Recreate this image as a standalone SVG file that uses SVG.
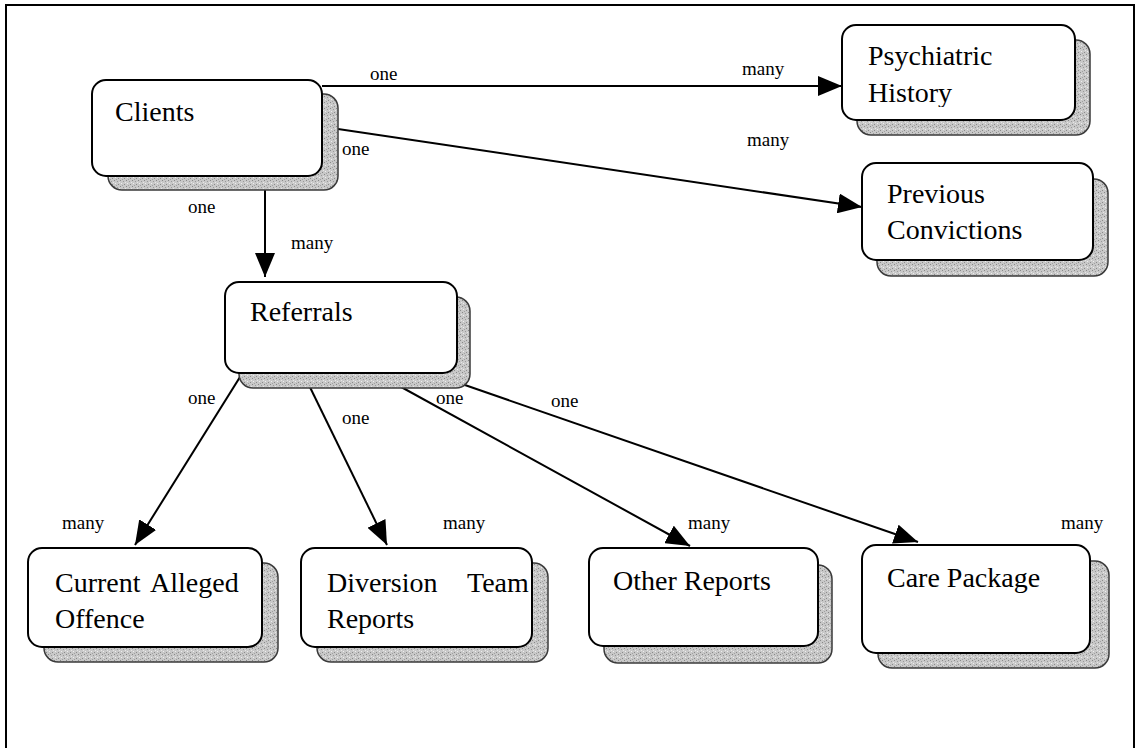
<svg xmlns="http://www.w3.org/2000/svg" width="1137" height="748" viewBox="0 0 1137 748">
<defs>
<style>
.frame{fill:none;stroke:#000;stroke-width:2}
.front{fill:#fff;stroke:#000;stroke-width:2}
.shadow{fill:url(#dither);stroke:#3a3a3a;stroke-width:1.5}
.t{font-family:"Liberation Serif","Times New Roman",serif;font-size:28px;fill:#000}
.lbl{font-family:"Liberation Serif","Times New Roman",serif;font-size:19px;fill:#000}
.con{stroke:#000;stroke-width:2;fill:none;marker-end:url(#arr)}
</style>
<pattern id="dither" width="6" height="6" patternUnits="userSpaceOnUse">
<rect width="6" height="6" fill="#c8c8c8"/>
<rect x="0" y="0" width="1" height="1" fill="#888"/>
<rect x="3" y="1" width="1" height="1" fill="#999"/>
<rect x="1" y="3" width="1" height="1" fill="#eee"/>
<rect x="4" y="4" width="1" height="1" fill="#8a8a8a"/>
<rect x="5" y="2" width="1" height="1" fill="#e6e6e6"/>
<rect x="2" y="5" width="1" height="1" fill="#a0a0a0"/>
</pattern>
<marker id="arr" viewBox="0 0 24 20" refX="24" refY="10" markerWidth="24" markerHeight="20" markerUnits="userSpaceOnUse" orient="auto">
<path d="M0,0 L24,10 L0,20 Z" fill="#000"/>
</marker>
<clipPath id="clipPsy"><rect x="842" y="25" width="233" height="82"/></clipPath>
</defs>
<rect width="1137" height="748" fill="#fff"/>
<path class="frame" d="M6,760 V5 H1134 V760"/>

<g id="connectors">
<line class="con" x1="322" y1="86" x2="842" y2="86"/>
<line class="con" x1="338" y1="129" x2="862" y2="207"/>
<line class="con" x1="265" y1="190" x2="265" y2="277"/>
<line class="con" x1="240" y1="377" x2="135" y2="545"/>
<line class="con" x1="305" y1="377" x2="387" y2="545"/>
<line class="con" x1="383" y1="377" x2="690" y2="546"/>
<line class="con" x1="462" y1="384" x2="918" y2="542"/>
<text class="lbl" x="370" y="80">one</text>
<text class="lbl" x="742" y="75">many</text>
<text class="lbl" x="342" y="155">one</text>
<text class="lbl" x="747" y="146">many</text>
<text class="lbl" x="188" y="213">one</text>
<text class="lbl" x="291" y="249">many</text>
<text class="lbl" x="188" y="404">one</text>
<text class="lbl" x="342" y="424">one</text>
<text class="lbl" x="436" y="404">one</text>
<text class="lbl" x="551" y="407">one</text>
<text class="lbl" x="62" y="529">many</text>
<text class="lbl" x="443" y="529">many</text>
<text class="lbl" x="688" y="529">many</text>
<text class="lbl" x="1061" y="529">many</text>
</g>

<g id="clients">
<rect class="shadow" x="108" y="94" width="230" height="96" rx="14"/>
<rect class="front" x="92" y="80" width="230" height="96" rx="14"/>
<text class="t" x="115" y="121">Clients</text>
</g>

<g id="psychiatric-history">
<rect class="shadow" x="857" y="40" width="233" height="95" rx="14"/>
<rect class="front" x="842" y="25" width="233" height="95" rx="14"/>
<text class="t" x="868" y="65">Psychiatric</text>
<text class="t" x="868" y="102" clip-path="url(#clipPsy)">History</text>
</g>

<g id="previous-convictions">
<rect class="shadow" x="877" y="179" width="231" height="97" rx="14"/>
<rect class="front" x="862" y="163" width="231" height="97" rx="14"/>
<text class="t" x="887" y="203">Previous</text>
<text class="t" x="887" y="239">Convictions</text>
</g>

<g id="referrals">
<rect class="shadow" x="239" y="297" width="231" height="91" rx="14"/>
<rect class="front" x="225" y="282" width="232" height="91" rx="14"/>
<text class="t" x="250" y="321">Referrals</text>
</g>

<g id="current-alleged-offence">
<rect class="shadow" x="44" y="563" width="234" height="99" rx="14"/>
<rect class="front" x="28" y="548" width="234" height="99" rx="14"/>
<text class="t" y="592"><tspan x="55">Current</tspan><tspan x="150">Alleged</tspan></text>
<text class="t" x="55" y="628">Offence</text>
</g>

<g id="diversion-team-reports">
<rect class="shadow" x="317" y="563" width="231" height="99" rx="14"/>
<rect class="front" x="301" y="548" width="231" height="99" rx="14"/>
<text class="t" y="592"><tspan x="327">Diversion</tspan><tspan x="467">Team</tspan></text>
<text class="t" x="327" y="628">Reports</text>
</g>

<g id="other-reports">
<rect class="shadow" x="604" y="565" width="228" height="98" rx="14"/>
<rect class="front" x="589" y="548" width="229" height="98" rx="14"/>
<text class="t" x="613" y="590">Other Reports</text>
</g>

<g id="care-package">
<rect class="shadow" x="878" y="561" width="231" height="107" rx="14"/>
<rect class="front" x="862" y="545" width="228" height="108" rx="14"/>
<text class="t" x="887" y="587">Care Package</text>
</g>
</svg>
